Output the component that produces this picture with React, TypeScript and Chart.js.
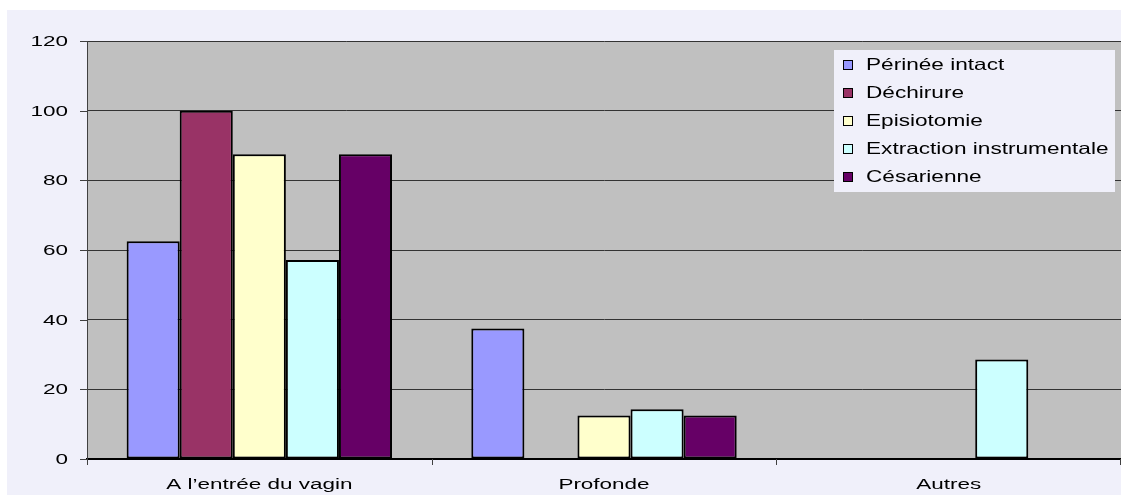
import React, { useEffect, useRef } from "react";
import { Chart, registerables } from "chart.js";

Chart.register(...registerables);

const categories = ["A l\u2019entrée du vagin", "Profonde", "Autres"];
const seriesNames = ["Périnée intact", "Déchirure", "Episiotomie", "Extraction instrumentale", "Césarienne"];
const perineeIntact = [62.5, 37.5, 0];
const dechirure = [100, 0, 0];
const episiotomie = [87.5, 12.5, 0];
const extraction = [57.1, 14.3, 28.6];
const cesarienne = [87.5, 12.5, 0];
const seriesColors = ["#9999FF", "#993366", "#FFFFCC", "#CCFFFF", "#660066"];
const yTicks = [0, 20, 40, 60, 80, 100, 120];

const FONT = "'Liberation Sans', Arial, sans-serif";
const SX = 1.45;

function drawText(ctx: CanvasRenderingContext2D, text: string, x: number, y: number, align: CanvasTextAlign, size: number, sx: number) {
  ctx.save();
  ctx.translate(x, y);
  ctx.scale(sx, 1);
  ctx.font = `${size}px ${FONT}`;
  ctx.textAlign = align;
  ctx.textBaseline = "middle";
  ctx.fillStyle = "#000";
  ctx.fillText(text, 0, 0);
  ctx.restore();
}

const decorPlugin = {
  id: "decor",
  beforeDraw(chart: any) {
    const { ctx, chartArea, width, height } = chart;
    ctx.save();
    ctx.fillStyle = "#FFFFFF";
    ctx.fillRect(0, 0, width, height);
    ctx.fillStyle = "#F0F0FA";
    ctx.fillRect(7, 10, width - 7, height - 10);
    ctx.fillStyle = "#C0C0C0";
    ctx.fillRect(chartArea.left, chartArea.top, chartArea.right - chartArea.left, chartArea.bottom - chartArea.top);
    ctx.restore();
  },
  afterDraw(chart: any) {
    const { ctx, chartArea } = chart;
    const xs = chart.scales.x;
    const ys = chart.scales.y;
    ctx.save();
    ctx.strokeStyle = "#404040";
    ctx.lineWidth = 1;
    yTicks.forEach((v) => {
      const y = Math.round(ys.getPixelForValue(v)) + 0.5;
      ctx.beginPath();
      ctx.moveTo(chartArea.left - 7, y);
      ctx.lineTo(chartArea.left, y);
      ctx.stroke();
      drawText(ctx, String(v), chartArea.left - 19, y, "right", 15.5, SX);
    });
    const n = categories.length;
    for (let i = 0; i <= n; i++) {
      let px: number;
      if (i === 0) px = chartArea.left;
      else if (i === n) px = chartArea.right - 1;
      else px = (xs.getPixelForValue(i - 1) + xs.getPixelForValue(i)) / 2;
      px = Math.round(px) + 0.5;
      ctx.beginPath();
      ctx.moveTo(px, chartArea.bottom);
      ctx.lineTo(px, chartArea.bottom + 6);
      ctx.stroke();
    }
    categories.forEach((c, i) => {
      drawText(ctx, c, xs.getPixelForValue(i), chartArea.bottom + 26, "center", 15.5, SX);
    });
    const lx = 834, ly = 50, lw = 281, lh = 142;
    ctx.fillStyle = "#F0F0FA";
    ctx.fillRect(lx, ly, lw, lh);
    chart.data.datasets.forEach((ds: any, i: number) => {
      const cy = 65 + i * 28;
      ctx.fillStyle = ds.backgroundColor;
      ctx.fillRect(843, cy - 5, 10, 10);
      ctx.strokeStyle = "#000";
      ctx.lineWidth = 1;
      ctx.strokeRect(843.5, cy - 4.5, 9, 9);
      drawText(ctx, ds.label, 866, cy, "left", 16.5, 1.37);
    });
    ctx.restore();
  },
};

export default function App() {
  const ref = useRef<HTMLCanvasElement>(null);
  useEffect(() => {
    document.body.style.margin = "0";
    const seriesData = [perineeIntact, dechirure, episiotomie, extraction, cesarienne];
    const chart = new Chart(ref.current!, {
      type: "bar",
      data: {
        labels: categories,
        datasets: seriesNames.map((name, i) => ({
          label: name,
          data: seriesData[i],
          backgroundColor: seriesColors[i],
          borderColor: "#000000",
          borderWidth: 2,
          borderSkipped: false,
          categoryPercentage: 0.77,
          barPercentage: 1,
        })),
      },
      options: {
        responsive: false,
        animation: false,
        layout: { padding: { left: 87, top: 41, right: 0, bottom: 36 } },
        plugins: { legend: { display: false }, tooltip: { enabled: false } },
        scales: {
          x: {
            grid: { display: false, drawTicks: false },
            ticks: { display: false },
            border: { display: true, color: "#000000", width: 2 },
          },
          y: {
            min: 0,
            max: 120,
            ticks: { display: false, stepSize: 20 },
            grid: { color: "#333333", lineWidth: 1, drawTicks: false },
            border: { display: true, color: "#404040", width: 1 },
          },
        },
      },
      plugins: [decorPlugin],
    });
    return () => chart.destroy();
  }, []);
  return (
    <div style={{ position: "absolute", left: 0, top: 0, width: 1121, height: 495 }}>
      <canvas ref={ref} width={1121} height={495} style={{ display: "block" }} />
    </div>
  );
}
